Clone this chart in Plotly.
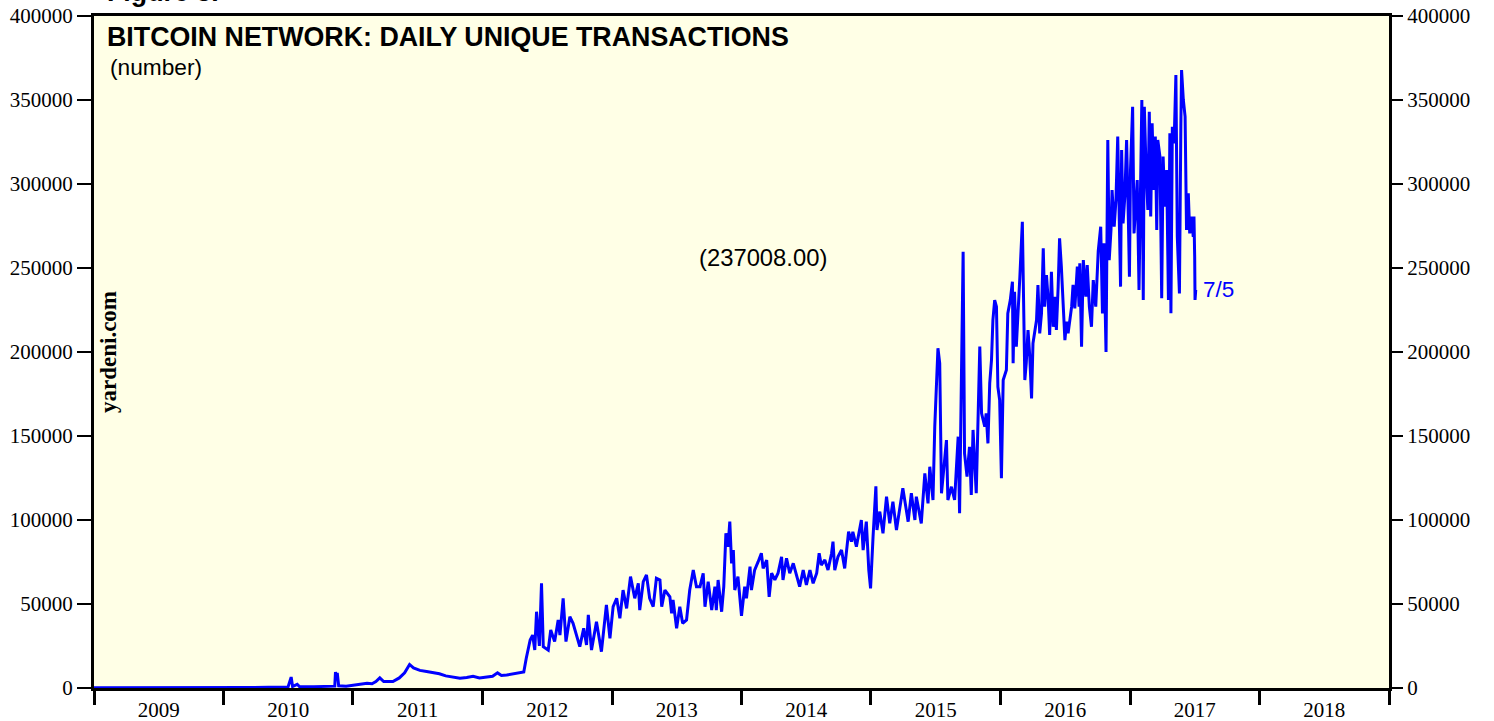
import pandas as pd
import plotly.graph_objects as go

# ---- data ----
decimal_years = [
    2009.00, 2009.15, 2009.30, 2009.45, 2009.60, 2009.75, 2009.90, 2010.05, 2010.20, 2010.35,
    2010.50, 2010.525, 2010.535, 2010.57, 2010.59, 2010.70, 2010.80, 2010.862, 2010.868, 2010.876,
    2010.882, 2010.892, 2010.95, 2011.00, 2011.06, 2011.11, 2011.15, 2011.18, 2011.21, 2011.24,
    2011.31, 2011.36, 2011.40, 2011.44, 2011.47, 2011.52, 2011.57, 2011.62, 2011.67, 2011.72,
    2011.78, 2011.83, 2011.88, 2011.93, 2011.98, 2012.03, 2012.08, 2012.12, 2012.15, 2012.19,
    2012.25, 2012.29, 2012.32, 2012.34, 2012.37, 2012.39, 2012.405, 2012.42, 2012.44, 2012.457,
    2012.47, 2012.51, 2012.53, 2012.56, 2012.585, 2012.60, 2012.625, 2012.645, 2012.676, 2012.70,
    2012.727, 2012.753, 2012.784, 2012.805, 2012.817, 2012.843, 2012.882, 2012.902, 2012.92, 2012.959,
    2012.985, 2013.010, 2013.036, 2013.062, 2013.087, 2013.114, 2013.144, 2013.178, 2013.203, 2013.216,
    2013.242, 2013.268, 2013.293, 2013.319, 2013.345, 2013.371, 2013.384, 2013.409, 2013.448, 2013.461,
    2013.473, 2013.500, 2013.525, 2013.546, 2013.577, 2013.602, 2013.628, 2013.654, 2013.680, 2013.705,
    2013.718, 2013.744, 2013.770, 2013.795, 2013.808, 2013.821, 2013.847, 2013.865, 2013.880, 2013.898,
    2013.911, 2013.924, 2013.937, 2013.950, 2013.975, 2014.001, 2014.027, 2014.040, 2014.066, 2014.079,
    2014.104, 2014.130, 2014.156, 2014.169, 2014.195, 2014.215, 2014.233, 2014.259, 2014.284, 2014.310,
    2014.323, 2014.349, 2014.375, 2014.400, 2014.426, 2014.452, 2014.477, 2014.503, 2014.529, 2014.555,
    2014.581, 2014.601, 2014.619, 2014.645, 2014.670, 2014.697, 2014.709, 2014.722, 2014.747, 2014.774,
    2014.799, 2014.812, 2014.830, 2014.851, 2014.863, 2014.890, 2014.915, 2014.928, 2014.941, 2014.967,
    2014.985, 2014.998, 2015.018, 2015.031, 2015.040, 2015.048, 2015.069, 2015.095, 2015.121, 2015.147,
    2015.172, 2015.198, 2015.224, 2015.249, 2015.288, 2015.314, 2015.340, 2015.353, 2015.391, 2015.417,
    2015.442, 2015.456, 2015.481, 2015.494, 2015.520, 2015.533, 2015.546, 2015.571, 2015.585, 2015.597,
    2015.623, 2015.649, 2015.674, 2015.687, 2015.700, 2015.713, 2015.726, 2015.744, 2015.764, 2015.778,
    2015.790, 2015.816, 2015.842, 2015.855, 2015.880, 2015.893, 2015.906, 2015.919, 2015.932, 2015.944,
    2015.958, 2015.971, 2015.983, 2015.996, 2016.009, 2016.022, 2016.048, 2016.060, 2016.079, 2016.094,
    2016.099, 2016.112, 2016.125, 2016.137, 2016.151, 2016.171, 2016.181, 2016.189, 2016.202, 2016.215,
    2016.228, 2016.241, 2016.253, 2016.266, 2016.279, 2016.292, 2016.305, 2016.318, 2016.331, 2016.344,
    2016.357, 2016.369, 2016.382, 2016.395, 2016.408, 2016.421, 2016.434, 2016.446, 2016.459, 2016.472,
    2016.485, 2016.498, 2016.511, 2016.524, 2016.537, 2016.550, 2016.562, 2016.575, 2016.593, 2016.609,
    2016.614, 2016.627, 2016.640, 2016.660, 2016.670, 2016.686, 2016.704, 2016.717, 2016.737, 2016.755,
    2016.774, 2016.789, 2016.799, 2016.815, 2016.828, 2016.840, 2016.853, 2016.863, 2016.879, 2016.892,
    2016.905, 2016.917, 2016.928, 2016.936, 2016.948, 2016.961, 2016.975, 2016.987, 2016.995, 2017.005,
    2017.021, 2017.031, 2017.046, 2017.056, 2017.069, 2017.083, 2017.093, 2017.103, 2017.111, 2017.124,
    2017.137, 2017.149, 2017.160, 2017.172, 2017.185, 2017.195, 2017.206, 2017.216, 2017.232, 2017.245,
    2017.257, 2017.270, 2017.283, 2017.296, 2017.309, 2017.317, 2017.327, 2017.340, 2017.355, 2017.365,
    2017.381, 2017.392, 2017.399, 2017.412, 2017.425, 2017.438, 2017.450, 2017.463, 2017.476, 2017.489,
    2017.495, 2017.499, 2017.503, 2017.507,
]

daily_transactions = [
    150, 120, 100, 130, 160, 200, 250, 300, 350, 400,
    500, 6500, 900, 2200, 700, 800, 1000, 1100, 9500, 5500,
    9000, 1300, 1100, 1600, 2000, 2800, 2500, 3800, 6000, 3800,
    3800, 6000, 9000, 14000, 12000, 10500, 9800, 9100, 8500, 7200,
    6500, 5800, 6200, 7000, 6000, 6500, 7000, 9000, 7500, 7700,
    8500, 8700, 9500, 17700, 28600, 31500, 22600, 45400, 25000, 62300,
    24600, 22600, 34500, 27600, 40500, 31500, 53400, 27600, 42400, 38500,
    30500, 24600, 35500, 25600, 43500, 22600, 39500, 30500, 21600, 49400,
    29600, 48400, 53400, 41500, 58300, 47400, 66300, 53400, 62300, 46400,
    63300, 67300, 53400, 48400, 65300, 64300, 48400, 58300, 54300, 44400,
    52400, 35500, 48400, 38500, 40500, 58300, 70200, 60300, 60300, 68300,
    48400, 63300, 46400, 60300, 46400, 64300, 45400, 60300, 92100, 84100,
    99000, 74200, 82100, 58300, 66300, 42900, 60300, 53400, 72200, 58300,
    70200, 75200, 80200, 71200, 76200, 54300, 68300, 64300, 68300, 78100,
    64300, 77200, 68300, 74200, 66300, 60300, 70200, 61300, 70200, 62300,
    68300, 80200, 73200, 76200, 70200, 80200, 87100, 70200, 78100, 82100,
    71200, 83100, 93000, 87100, 93000, 84100, 96000, 100000, 82100, 99000,
    70200, 59300, 90100, 105000, 120000, 94000, 105000, 92100, 113900, 98000,
    110900, 94000, 105900, 118900, 99000, 115900, 100000, 113900, 98000, 127800,
    109900, 131700, 111900, 155500, 202200, 193300, 115900, 133700, 147600, 111900,
    119800, 111900, 149600, 104000, 180300, 259700, 139700, 125800, 143600, 114900,
    153600, 115900, 203200, 163500, 155500, 163500, 145600, 181300, 195200, 219000,
    230900, 227000, 179300, 171400, 124800, 183300, 189300, 223000, 230900, 241800,
    193300, 235900, 203200, 229000, 244800, 277500, 203200, 183300, 193300, 213100,
    197200, 172400, 205200, 211100, 219000, 239900, 211100, 223000, 261700, 227000,
    245800, 230900, 210100, 247800, 215000, 232900, 213100, 238900, 267700, 250800,
    231900, 207100, 218000, 211100, 219000, 227000, 239900, 226000, 250800, 227000,
    252800, 203200, 254700, 232900, 251800, 227000, 215000, 242800, 227000, 260000,
    274600, 223000, 264700, 200000, 326200, 254700, 272600, 296400, 274600, 290500,
    328200, 290500, 238900, 320200, 276600, 292500, 326200, 278600, 244800, 308300,
    346000, 270600, 290500, 302400, 236900, 314300, 350000, 230900, 346000, 308300,
    284500, 343000, 280600, 336100, 296400, 328200, 272600, 326200, 316300, 232000,
    316300, 286500, 308300, 230900, 330200, 223000, 334100, 324200, 364900, 268600,
    234900, 334100, 367800, 350000, 340100, 272600, 294400, 270600, 280600, 268600,
    280600, 256700, 231000, 237008,
]

last_date_label = "7/5"
title_text = "BITCOIN NETWORK: DAILY UNIQUE TRANSACTIONS"
unit_text = "(number)"
source_text = "yardeni.com"
figure_text = "Figure 3."
x_range = ["2009-01-01", "2019-01-01"]
y_range = [0, 400000]


def to_date(t):
    year = int(t)
    start = pd.Timestamp(year=year, month=1, day=1)
    end = pd.Timestamp(year=year + 1, month=1, day=1)
    return (start + (end - start) * (t - year)).normalize()


dates = [to_date(t) for t in decimal_years]
last_value = daily_transactions[-1]

SERIF = "Liberation Serif, Times New Roman, serif"
SANS = "Liberation Sans, Arial, sans-serif"
BLUE = "#0000FF"

fig = go.Figure()
fig.add_trace(go.Scatter(x=dates, y=daily_transactions, mode="lines",
                         line=dict(color=BLUE, width=3), hoverinfo="skip",
                         showlegend=False))
# invisible trace so the right-hand axis and the year-boundary tick axis are drawn
fig.add_trace(go.Scatter(x=[dates[0]], y=[daily_transactions[0]], xaxis="x2", yaxis="y2",
                         mode="lines", line=dict(width=0), hoverinfo="skip",
                         showlegend=False))

tickfont = dict(family=SERIF, size=21, color="black")

fig.update_layout(
    width=1494, height=721,
    margin=dict(l=94, r=105, t=16, b=33, autoexpand=False),
    paper_bgcolor="white",
    plot_bgcolor="#FFFFE6",
    xaxis=dict(
        type="date", range=x_range, dtick="M12", tick0="2009-01-01",
        ticklabelmode="period", tickformat="%Y",
        ticks="", ticklabelstandoff=1,
        showline=True, linewidth=3, linecolor="black", mirror=True,
        showgrid=False, zeroline=False, tickfont=tickfont, automargin=False,
    ),
    xaxis2=dict(
        type="date", range=x_range, dtick="M12", tick0="2009-01-01",
        overlaying="x", side="bottom", showticklabels=False,
        ticks="outside", ticklen=16, tickwidth=3, tickcolor="black",
        showline=False, showgrid=False, zeroline=False, automargin=False,
    ),
    yaxis=dict(
        range=y_range, dtick=50000, tickformat="d",
        ticks="outside", ticklen=14, tickwidth=1.5, tickcolor="black",
        showline=True, linewidth=3, linecolor="black", mirror=True,
        showgrid=False, zeroline=False, tickfont=tickfont, automargin=False,
    ),
    yaxis2=dict(
        range=y_range, dtick=50000, tickformat="d", overlaying="y", side="right",
        ticks="outside", ticklen=13, tickwidth=1.5, tickcolor="black",
        showline=False, showgrid=False, zeroline=False, tickfont=tickfont,
        automargin=False,
    ),
)

fig.add_annotation(text="<b>%s</b>" % title_text, xref="paper", yref="paper", x=0.0085, y=0.9688,
                   xanchor="left", yanchor="middle", showarrow=False,
                   font=dict(family=SANS, size=26.8, color="black"))
fig.add_annotation(text=unit_text, xref="paper", yref="paper", x=0.0108, y=0.924,
                   xanchor="left", yanchor="middle", showarrow=False,
                   font=dict(family=SANS, size=22.7, color="black"))
fig.add_annotation(text="(%.2f)" % last_value, xref="paper", yref="paper", x=0.5166, y=0.6399,
                   xanchor="center", yanchor="middle", showarrow=False,
                   font=dict(family=SANS, size=23.8, color="black"))
fig.add_annotation(text=last_date_label, x=dates[-1], y=last_value, xref="x", yref="y",
                   xanchor="left", yanchor="middle", xshift=5, showarrow=False,
                   font=dict(family=SANS, size=22.5, color=BLUE))
fig.add_annotation(text="<b>%s</b>" % source_text, xref="paper", yref="paper", x=0.0108, y=0.50,
                   xanchor="center", yanchor="middle", textangle=-90, showarrow=False,
                   font=dict(family=SERIF, size=23, color="black"))
fig.add_annotation(text="<b>%s</b>" % figure_text, xref="paper", yref="paper", x=0.0085, y=1.0357,
                   xanchor="left", yanchor="middle", showarrow=False,
                   font=dict(family=SANS, size=26.8, color="black"))

fig.write_html("out.html", config={"displayModeBar": False},
               post_script="document.body.style.margin='0';document.body.style.overflow='hidden';")
